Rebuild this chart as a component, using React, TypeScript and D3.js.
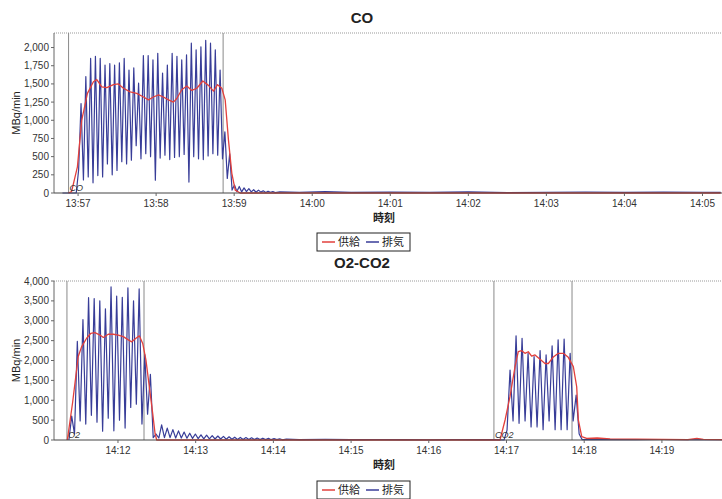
import React from "react";
import * as d3 from "d3";

// ---------- data (seconds relative to a base minute) ----------
const coBase = "2020-01-01T13:57:00";
const coDomain = [-18.5, 495];
const coYTicks = [0, 250, 500, 750, 1000, 1250, 1500, 1750, 2000];
const coMarkers = [-7.3, 111.5];
const coBlueStart = -1.4;
const coBlueStep = 1.843;
const coBlue = [
  0, 320, 1230, 180, 1600, 220, 1850, 140, 1880, 240, 1850, 220, 1760, 400,
  1780, 250, 1760, 310, 1790, 430, 1850, 400, 1690, 450, 1720, 650, 1510, 470,
  1890, 540, 1890, 500, 1830, 175, 1920, 480, 1650, 520, 1760, 460, 1920, 490,
  1880, 500, 1830, 530, 1900, 150, 2060, 500, 1970, 470, 2010, 460, 2100, 510,
  2060, 540, 1970, 520, 1690, 470, 840, 200, 540, 40, 110, 20, 90, 15, 70, 20,
  60, 15, 45, 10, 40, 12, 30, 8, 25, 10, 20, 5,
];
const coBlueTailT = [155, 170, 190, 210, 240, 270, 300, 330, 360, 390, 420, 450, 480, 494];
const coBlueTailV = [15, 10, 20, 8, 12, 10, 15, 6, 10, 14, 8, 12, 10, 8];
const coRedT = [
  -7.4, -5.0, -0.5, 2.8, 7.2, 11.8, 14.4, 18.2, 22.1, 27.2, 31.0, 34.9, 40.0,
  45.1, 50.3, 54.1, 57.9, 61.8, 65.6, 69.5, 73.3, 75.9, 79.7, 83.6, 87.4, 91.3,
  95.9, 100.2, 104.1, 107.2, 110.5, 113.1, 115.6, 118.2, 120.8, 124.6, 200, 300,
  400, 494,
];
const coRedV = [
  0, 20, 360, 1000, 1370, 1530, 1560, 1460, 1450, 1490, 1500, 1440, 1390, 1370,
  1320, 1280, 1320, 1350, 1320, 1280, 1250, 1300, 1420, 1470, 1410, 1440, 1540,
  1480, 1400, 1490, 1440, 1280, 730, 270, 40, 0, 0, 0, 0, 0,
];

const o2Base = "2020-01-01T14:12:00";
const o2Domain = [-49.4, 466.4];
const o2YTicks = [0, 500, 1000, 1500, 2000, 2500, 3000, 3500, 4000];
const o2Markers = [-39.4, 20.1, 290.3, 350.6];
const o2BlueStart = -37.9;
const o2BlueStep = 2.17;
const o2Blue = [
  0, 600, 150, 2480, 480, 3030, 400, 3580, 620, 3560, 450, 3500, 220, 3300, 550,
  3850, 230, 3620, 500, 3590, 300, 3830, 820, 3500, 900, 3800, 400, 2150, 650,
  1650, 60, 150, 50, 380, 60, 300, 60, 260, 50, 230, 50, 200, 45, 170, 40, 150,
  35, 130, 30, 120, 30, 110, 25, 100, 25, 90, 20, 80, 20, 70, 15, 65, 15, 60,
  15, 55, 10, 50, 10, 45, 10, 40, 8, 35, 8, 30, 5,
];
const o2BlueMidT = [130, 140, 160, 180, 200, 220, 240, 260, 280, 292];
const o2BlueMidV = [20, 10, 15, 8, 12, 10, 6, 12, 8, 10];
const o2Blue2Start = 298.1;
const o2Blue2Step = 2.32;
const o2Blue2 = [
  0, 250, 1760, 480, 2620, 420, 2560, 480, 2180, 330, 2100, 330, 2250, 260,
  2140, 480, 2370, 260, 2520, 260, 2540, 260, 2180, 480, 1130, 150, 10,
];
const o2BlueTailT = [365, 380, 400, 420, 440, 460, 467];
const o2BlueTailV = [15, 10, 8, 12, 6, 10, 8];
const o2RedT = [
  -39.1, -35.0, -30.7, -28.0, -24.2, -21.1, -17.8, -13.9, -11.3, -7.5, -3.6,
  0.2, 4.1, 8.0, 10.6, 13.9, 16.5, 19.1, 21.6, 24.2, 26.8, 28.6, 29.9, 100, 200,
  295, 298.9, 302.7, 306.6, 309.1, 311.7, 314.3, 316.8, 319.4, 322.0, 325.9,
  329.7, 332.3, 336.2, 340.0, 343.9, 347.7, 351.6, 354.2, 355.5, 358.1, 361.9,
  370, 380, 400, 420, 440, 447, 452, 467,
];
const o2RedV = [
  0, 950, 2100, 2350, 2560, 2680, 2700, 2640, 2580, 2660, 2660, 2640, 2600, 2520,
  2470, 2560, 2620, 2430, 2010, 1340, 670, 170, 0, 0, 0, 0, 503, 1090, 1845,
  2222, 2248, 2180, 2220, 2110, 2140, 2030, 1925, 1925, 2090, 2180, 2180, 2080,
  1845, 1340, 503, 84, 40, 50, 30, 20, 15, 10, 40, 15, 10,
];

const RED = "#e2403c";
const BLUE = "#383d98";
const FONT = "'Liberation Sans', Arial, sans-serif";

type Pt = { t: number; v: number };

const fromSeries = (start: number, step: number, vals: number[]): Pt[] =>
  vals.map((v, i) => ({ t: start + i * step, v }));
const fromPairs = (ts: number[], vs: number[]): Pt[] => ts.map((t, i) => ({ t, v: vs[i] }));

interface PanelProps {
  base: string;
  domain: number[];
  yMax: number;
  yTicks: number[];
  top: number;
  bottom: number;
  title: string;
  titleY: number;
  blue: Pt[];
  red: Pt[];
  markers: number[];
  markerLabels: { at: number; text: string }[];
  legendY: number;
  axisLabelY: number;
}

function Panel(p: PanelProps) {
  const base = new Date(p.base).getTime();
  const toDate = (s: number) => new Date(base + s * 1000);
  const left = 54;
  const right = 722;
  const x = d3.scaleTime().domain([toDate(p.domain[0]), toDate(p.domain[1])]).range([left, right]);
  const y = d3.scaleLinear().domain([0, p.yMax]).range([p.bottom, p.top]);
  const line = d3
    .line<Pt>()
    .x((d) => x(toDate(d.t)))
    .y((d) => y(d.v));
  const xTicks = x.ticks(d3.timeMinute.every(1) as any);
  const fmt = d3.timeFormat("%H:%M");
  const yf = d3.format(",");
  const cx = (left + right) / 2;
  const lx = 317;
  return (
    <g>
      <text x={362} y={p.titleY} textAnchor="middle" fontFamily={FONT} fontWeight="bold" fontSize={15} fill="#222">
        {p.title}
      </text>
      <line x1={left} x2={right} y1={p.top} y2={p.top} stroke="#999" strokeDasharray="1,1" />
      {p.markers.map((m, i) => (
        <line key={i} x1={x(toDate(m))} x2={x(toDate(m))} y1={p.top} y2={p.bottom} stroke="#8a8a8a" strokeWidth={1} />
      ))}
      <path d={line(p.blue) || ""} fill="none" stroke={BLUE} strokeWidth={1.2} strokeLinejoin="round" />
      <path d={line(p.red) || ""} fill="none" stroke={RED} strokeWidth={1.3} strokeLinejoin="round" />
      {p.markerLabels.map((m, i) => (
        <text key={i} x={x(toDate(m.at)) + 1} y={p.bottom - 2} fontFamily={FONT} fontSize={9} fontStyle="italic" fill="#333">
          {m.text}
        </text>
      ))}
      <line x1={left} x2={left} y1={p.top} y2={p.bottom} stroke="#666" />
      <line x1={left} x2={right} y1={p.bottom} y2={p.bottom} stroke="#444" />
      {p.yTicks.map((t) => (
        <g key={t}>
          <line x1={left - 3} x2={left} y1={y(t)} y2={y(t)} stroke="#666" />
          <text x={left - 5} y={y(t) + 3.5} textAnchor="end" fontFamily={FONT} fontSize={10} fill="#333">
            {yf(t)}
          </text>
        </g>
      ))}
      {xTicks.map((t, i) => (
        <g key={i}>
          <line x1={x(t)} x2={x(t)} y1={p.bottom} y2={p.bottom + 3} stroke="#666" />
          <text x={x(t)} y={p.bottom + 14} textAnchor="middle" fontFamily={FONT} fontSize={10} fill="#333">
            {fmt(t)}
          </text>
        </g>
      ))}
      <text
        transform={`translate(20,${(p.top + p.bottom) / 2}) rotate(-90)`}
        textAnchor="middle"
        fontFamily={FONT}
        fontSize={11}
        fill="#222"
      >
        MBq/min
      </text>
      <text x={cx - 4} y={p.axisLabelY} textAnchor="middle" fontFamily="'Noto Sans CJK JP', sans-serif" fontWeight="bold" fontSize={11} fill="#222">
        時刻
      </text>
      <rect x={lx} y={p.legendY} width={93} height={18} fill="#fff" stroke="#222" strokeWidth={1} />
      <line x1={lx + 5} x2={lx + 18} y1={p.legendY + 9} y2={p.legendY + 9} stroke={RED} strokeWidth={1.5} />
      <text x={lx + 21} y={p.legendY + 13} fontFamily="'Noto Sans CJK JP', sans-serif" fontSize={11} fill="#222">
        供給
      </text>
      <line x1={lx + 49} x2={lx + 62} y1={p.legendY + 9} y2={p.legendY + 9} stroke={BLUE} strokeWidth={1.5} />
      <text x={lx + 65} y={p.legendY + 13} fontFamily="'Noto Sans CJK JP', sans-serif" fontSize={11} fill="#222">
        排気
      </text>
    </g>
  );
}

export default function App() {
  const coBluePts = [{ t: -12, v: 0 }, ...fromSeries(coBlueStart, coBlueStep, coBlue), ...fromPairs(coBlueTailT, coBlueTailV)];
  const coRedPts = fromPairs(coRedT, coRedV);
  const o2BluePts = [
    ...fromSeries(o2BlueStart, o2BlueStep, o2Blue),
    ...fromPairs(o2BlueMidT, o2BlueMidV),
    ...fromSeries(o2Blue2Start, o2Blue2Step, o2Blue2),
    ...fromPairs(o2BlueTailT, o2BlueTailV),
  ];
  const o2RedPts = fromPairs(o2RedT, o2RedV);
  return (
    <svg width={722} height={499} style={{ position: "absolute", left: 0, top: 0, background: "#fff" }}>
      <Panel
        base={coBase}
        domain={coDomain}
        yMax={2200}
        yTicks={coYTicks}
        top={33}
        bottom={193}
        title="CO"
        titleY={23}
        blue={coBluePts}
        red={coRedPts}
        markers={coMarkers}
        markerLabels={[{ at: coMarkers[0], text: "CO" }]}
        legendY={233}
        axisLabelY={222}
      />
      <Panel
        base={o2Base}
        domain={o2Domain}
        yMax={4000}
        yTicks={o2YTicks}
        top={281}
        bottom={440}
        title="O2-CO2"
        titleY={268}
        blue={o2BluePts}
        red={o2RedPts}
        markers={o2Markers}
        markerLabels={[
          { at: o2Markers[0], text: "O2" },
          { at: o2Markers[2], text: "CO2" },
        ]}
        legendY={481}
        axisLabelY={469}
      />
    </svg>
  );
}
